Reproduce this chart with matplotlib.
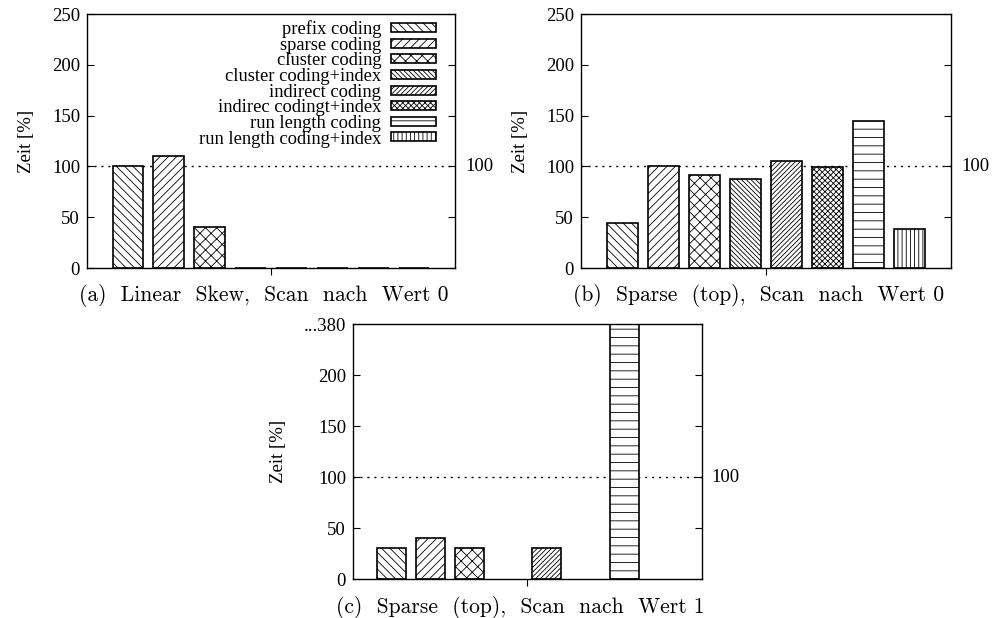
import numpy as np
import matplotlib
matplotlib.use('Agg')
import matplotlib.pyplot as plt
import matplotlib.transforms as mtransforms

plt.rcParams['font.family'] = ['Liberation Serif', 'DejaVu Serif']
plt.rcParams['hatch.linewidth'] = 0.6
plt.rcParams['hatch.color'] = 'black'

# Data
methods = ['prefix coding', 'sparse coding', 'cluster coding', 'cluster coding+index',
           'indirect coding', 'indirec codingt+index', 'run length coding',
           'run length coding+index']
hatches = ['\\' * 4, '/' * 4, 'xxx', '\\' * 7, '/' * 7, 'x' * 6, '--', '||||']

vals_a = [100, 110, 40, 0, 0, 0, 0, 0]
vals_b = [44, 100, 92, 88, 105, 99, 145, 38]
vals_c = [30, 40, 30, np.nan, 30, np.nan, 380, np.nan]

caption_a = '(a)  Linear  Skew,  Scan  nach  Wert 0'
caption_b = '(b)  Sparse  (top),  Scan  nach  Wert 0'
caption_c = '(c)  Sparse  (top),  Scan  nach  Wert 1'

fig = plt.figure(figsize=(9.98, 6.18), dpi=100)


def draw_panel(rect, vals, caption, ylim_top, yticks, yticklabels, legend=False):
    ax = fig.add_axes(rect)
    x = np.arange(len(vals))
    bars = []
    for i, v in enumerate(vals):
        if np.isnan(v):
            bars.append(ax.bar(x[i], 0, 0.75, color='white', edgecolor='none',
                               label=methods[i]))
            continue
        bars.append(ax.bar(x[i], min(v, ylim_top), 0.75, color='white', edgecolor='black',
                           linewidth=1.2, hatch=hatches[i], label=methods[i], zorder=2))
    ax.axhline(100, color='black', linestyle=(0, (1.5, 3.5)), linewidth=1.0, zorder=1)
    ax.set_xlim(-1, 8)
    ax.set_ylim(0, ylim_top)
    ax.set_yticks(yticks)
    ax.set_yticklabels(yticklabels)
    ax.set_xticks([3.5])
    ax.set_xticklabels([])
    ax.tick_params(axis='y', direction='in', length=5, right=True, labelsize=13.5, pad=5)
    ax.tick_params(axis='x', direction='out', length=5, top=False)
    for s in ax.spines.values():
        s.set_linewidth(1.0)
    ax.set_ylabel('Zeit [%]', fontsize=13.5, labelpad=12)
    trans = mtransforms.blended_transform_factory(ax.transAxes, ax.transData)
    ax.text(1.027, 100, '100', transform=trans, fontsize=13.5, va='center', ha='left')
    ax.text(0.48, -0.11, caption, transform=ax.transAxes, fontsize=15.5,
            family='cmr10', ha='center', va='center')
    if legend:
        handles = [b[0] for b in bars]
        ax.legend(handles, methods, loc='upper right', bbox_to_anchor=(0.948, 0.975),
                  frameon=False, markerfirst=False, fontsize=13.3, labelspacing=-0.075,
                  handlelength=2.45, handleheight=0.38, handletextpad=0.5,
                  borderpad=0, borderaxespad=0)
    return ax


ticks = [0, 50, 100, 150, 200, 250]
draw_panel([0.0872, 0.5663, 0.3687, 0.411], vals_a, caption_a, 250, ticks,
           [str(t) for t in ticks], legend=True)
draw_panel([0.5822, 0.5663, 0.3707, 0.411], vals_b, caption_b, 250, ticks,
           [str(t) for t in ticks])
draw_panel([0.3537, 0.0631, 0.3497, 0.4126], vals_c, caption_c, 250, ticks,
           ['0', '50', '100', '150', '200', '...380'])

fig.savefig('out.png', dpi=100)
